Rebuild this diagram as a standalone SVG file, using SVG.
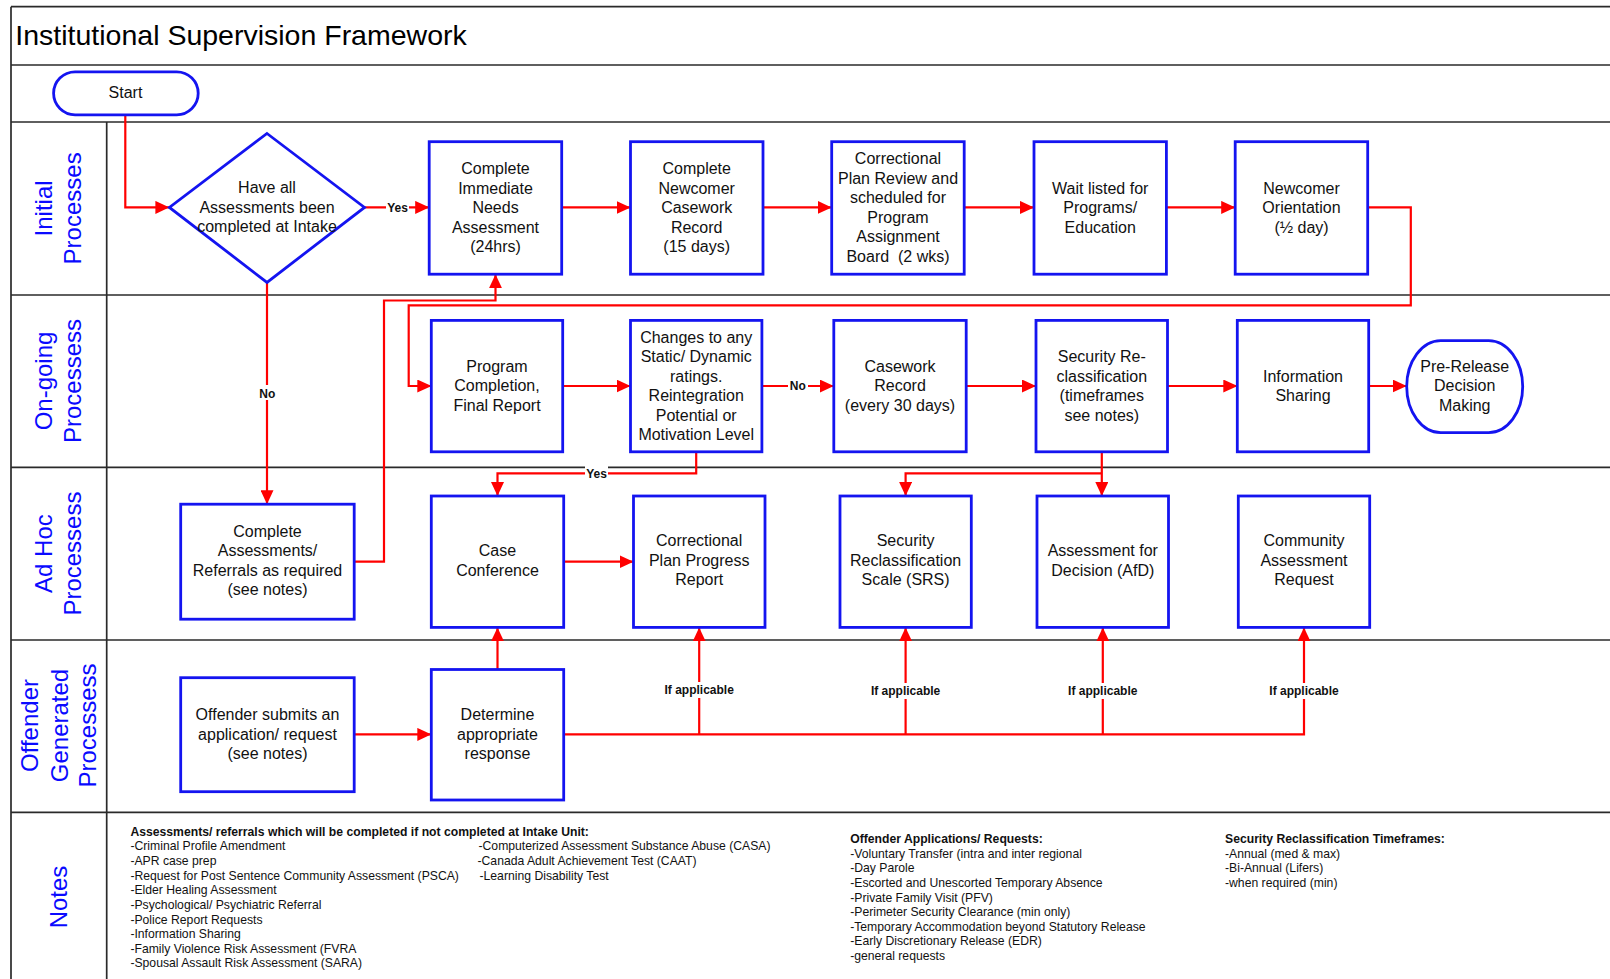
<svg xmlns="http://www.w3.org/2000/svg" width="1610" height="979" viewBox="0 0 1610 979">
<defs>
<style>
.frame{stroke:#2a2a2a;stroke-width:1.7;fill:none}
.node{fill:#fff;stroke:#1414f0;stroke-width:2.8}
.t{font-family:"Liberation Sans",Arial,sans-serif;font-size:16px;fill:#111;text-anchor:middle}
.lane{font-family:"Liberation Sans",Arial,sans-serif;font-size:24px;fill:#0a0aff;text-anchor:middle}
.lbl{font-family:"Liberation Sans",Arial,sans-serif;font-size:12px;font-weight:bold;fill:#111;text-anchor:middle}
.conn{fill:none;stroke:#ff0000;stroke-width:2.2}
.note{font-family:"Liberation Sans",Arial,sans-serif;font-size:12.2px;fill:#111}
.noteh{font-family:"Liberation Sans",Arial,sans-serif;font-size:12.2px;font-weight:bold;fill:#111}
.bg{fill:#fff}
</style>
<marker id="arr" markerUnits="userSpaceOnUse" markerWidth="14" markerHeight="13" refX="14" refY="6.5" orient="auto">
<path d="M0,0 L14,6.5 L0,13 z" fill="#ff0000"/>
</marker>
</defs>
<rect x="0" y="0" width="1610" height="979" fill="#fff"/>

<g id="frame">
<line class="frame" x1="11" y1="6.7" x2="1610" y2="6.7" stroke="#444"/>
<line class="frame" x1="11" y1="6.7" x2="11" y2="979"/>
<line class="frame" x1="11" y1="65" x2="1610" y2="65"/>
<line class="frame" x1="11" y1="122" x2="1610" y2="122"/>
<line class="frame" x1="11" y1="295" x2="1610" y2="295"/>
<line class="frame" x1="11" y1="467.3" x2="1610" y2="467.3"/>
<line class="frame" x1="11" y1="640" x2="1610" y2="640"/>
<line class="frame" x1="11" y1="812.3" x2="1610" y2="812.3"/>
<line class="frame" x1="106.7" y1="122" x2="106.7" y2="979"/>
<text x="15.3" y="44.5" font-family="Liberation Sans, Arial, sans-serif" font-size="28.5" fill="#000">Institutional Supervision Framework</text>
</g>

<g id="lanes">
<text class="lane" transform="translate(51.5,208.4) rotate(-90)">Initial</text>
<text class="lane" transform="translate(81,208.4) rotate(-90)">Processes</text>
<text class="lane" transform="translate(52,381) rotate(-90)">On-going</text>
<text class="lane" transform="translate(81,381) rotate(-90)">Processess</text>
<text class="lane" transform="translate(52,553.6) rotate(-90)">Ad Hoc</text>
<text class="lane" transform="translate(81,553.6) rotate(-90)">Processess</text>
<text class="lane" transform="translate(38.3,725.5) rotate(-90)">Offender</text>
<text class="lane" transform="translate(67.5,725.5) rotate(-90)">Generated</text>
<text class="lane" transform="translate(95.7,725.5) rotate(-90)">Processess</text>
<text class="lane" transform="translate(67,897) rotate(-90)">Notes</text>
</g>

<g id="connectors">
<path class="conn" d="M125.3,114 V207.4 H169.4" marker-end="url(#arr)"/>
<path class="conn" d="M364.5,207.4 H429.2" marker-end="url(#arr)"/>
<path class="conn" d="M561.7,207.4 H630.5" marker-end="url(#arr)"/>
<path class="conn" d="M763,207.4 H831.7" marker-end="url(#arr)"/>
<path class="conn" d="M964.2,207.4 H1034" marker-end="url(#arr)"/>
<path class="conn" d="M1166.4,207.4 H1235.2" marker-end="url(#arr)"/>
<path class="conn" d="M1367.7,207.4 H1410.8 V305.3 H408.7 V386 H431.3" marker-end="url(#arr)"/>
<path class="conn" d="M267,282.4 V504.2" marker-end="url(#arr)"/>
<path class="conn" d="M354.2,561.7 H384 V300.5 H495.5 V274.2" marker-end="url(#arr)"/>
<path class="conn" d="M562.7,386 H630.5" marker-end="url(#arr)"/>
<path class="conn" d="M761.9,386 H833.8" marker-end="url(#arr)"/>
<path class="conn" d="M966.2,386 H1036" marker-end="url(#arr)"/>
<path class="conn" d="M1167.5,386 H1237.3" marker-end="url(#arr)"/>
<path class="conn" d="M1368.7,386 H1406.7" marker-end="url(#arr)"/>
<path class="conn" d="M696.2,451.8 V473.3 H497.5 V496" marker-end="url(#arr)"/>
<path class="conn" d="M1101.8,451.8 V496" marker-end="url(#arr)"/>
<path class="conn" d="M1101.8,473.3 H905.6 V496" marker-end="url(#arr)"/>
<path class="conn" d="M563.7,561.7 H633.5" marker-end="url(#arr)"/>
<path class="conn" d="M497.5,669.5 V627.4" marker-end="url(#arr)"/>
<path class="conn" d="M354.2,734.4 H431.3" marker-end="url(#arr)"/>
<path class="conn" d="M563.7,734.4 H1304 V627.4" marker-end="url(#arr)"/>
<path class="conn" d="M699.2,734.4 V627.4" marker-end="url(#arr)"/>
<path class="conn" d="M905.6,734.4 V627.4" marker-end="url(#arr)"/>
<path class="conn" d="M1102.8,734.4 V627.4" marker-end="url(#arr)"/>
<rect class="bg" x="386" y="200" width="23" height="15"/>
<text class="lbl" x="397.6" y="211.6">Yes</text>
<rect class="bg" x="257" y="385" width="20" height="15"/>
<text class="lbl" x="267.3" y="397.5">No</text>
<rect class="bg" x="788" y="379" width="20" height="15"/>
<text class="lbl" x="797.8" y="390.2">No</text>
<rect class="bg" x="585" y="466" width="23" height="15"/>
<text class="lbl" x="596.6" y="477.5">Yes</text>
<rect class="bg" x="662" y="682" width="74" height="16"/>
<text class="lbl" x="699.2" y="694.3">If applicable</text>
<rect class="bg" x="868" y="683" width="74" height="16"/>
<text class="lbl" x="905.6" y="695.3">If applicable</text>
<rect class="bg" x="1065" y="683" width="74" height="16"/>
<text class="lbl" x="1102.8" y="695.3">If applicable</text>
<rect class="bg" x="1267" y="683" width="74" height="16"/>
<text class="lbl" x="1304" y="695.3">If applicable</text>
</g>

<g id="start">
<rect class="node" x="53.6" y="71.8" width="144.6" height="43" rx="21.5" ry="21.5"/>
<text class="t" x="125.5" y="98">Start</text>
</g>

<g id="decision">
<polygon class="node" points="267,133.5 364.5,207.4 267,282.4 169.4,207.4"/>
<text class="t" x="267" y="193.4">Have all</text>
<text class="t" x="267" y="212.9">Assessments been</text>
<text class="t" x="267" y="232.4">completed at Intake</text>
</g>

<g id="needs">
<rect class="node" x="429.2" y="141.7" width="132.5" height="132.5"/>
<text class="t" x="495.5" y="174">Complete</text>
<text class="t" x="495.5" y="193.5">Immediate</text>
<text class="t" x="495.5" y="213">Needs</text>
<text class="t" x="495.5" y="232.5">Assessment</text>
<text class="t" x="495.5" y="252">(24hrs)</text>
</g>

<g id="newcomer-record">
<rect class="node" x="630.5" y="141.7" width="132.5" height="132.5"/>
<text class="t" x="696.7" y="174">Complete</text>
<text class="t" x="696.7" y="193.5">Newcomer</text>
<text class="t" x="696.7" y="213">Casework</text>
<text class="t" x="696.7" y="232.5">Record</text>
<text class="t" x="696.7" y="252">(15 days)</text>
</g>

<g id="plan-review">
<rect class="node" x="831.7" y="141.7" width="132.5" height="132.5"/>
<text class="t" x="898" y="164.2">Correctional</text>
<text class="t" x="898" y="183.7">Plan Review and</text>
<text class="t" x="898" y="203.2">scheduled for</text>
<text class="t" x="898" y="222.7">Program</text>
<text class="t" x="898" y="242.2">Assignment</text>
<text class="t" x="898" y="261.7" xml:space="preserve">Board  (2 wks)</text>
</g>

<g id="wait-listed">
<rect class="node" x="1034" y="141.7" width="132.4" height="132.5"/>
<text class="t" x="1100.2" y="193.5">Wait listed for</text>
<text class="t" x="1100.2" y="213">Programs/</text>
<text class="t" x="1100.2" y="232.5">Education</text>
</g>

<g id="orientation">
<rect class="node" x="1235.2" y="141.7" width="132.5" height="132.5"/>
<text class="t" x="1301.5" y="193.5">Newcomer</text>
<text class="t" x="1301.5" y="213">Orientation</text>
<text class="t" x="1301.5" y="232.5">(½ day)</text>
</g>

<g id="program-completion">
<rect class="node" x="431.3" y="320.4" width="131.4" height="131.4"/>
<text class="t" x="497" y="371.9">Program</text>
<text class="t" x="497" y="391.4">Completion,</text>
<text class="t" x="497" y="410.9">Final Report</text>
</g>

<g id="changes">
<rect class="node" x="630.5" y="320.4" width="131.4" height="131.4"/>
<text class="t" x="696.2" y="342.6">Changes to any</text>
<text class="t" x="696.2" y="362.1">Static/ Dynamic</text>
<text class="t" x="696.2" y="381.6">ratings.</text>
<text class="t" x="696.2" y="401.1">Reintegration</text>
<text class="t" x="696.2" y="420.6">Potential or</text>
<text class="t" x="696.2" y="440.1">Motivation Level</text>
</g>

<g id="casework-record">
<rect class="node" x="833.8" y="320.4" width="132.4" height="131.4"/>
<text class="t" x="900" y="371.9">Casework</text>
<text class="t" x="900" y="391.4">Record</text>
<text class="t" x="900" y="410.9">(every 30 days)</text>
</g>

<g id="security-reclass">
<rect class="node" x="1036" y="320.4" width="131.5" height="131.4"/>
<text class="t" x="1101.8" y="362.1">Security Re-</text>
<text class="t" x="1101.8" y="381.6">classification</text>
<text class="t" x="1101.8" y="401.1">(timeframes</text>
<text class="t" x="1101.8" y="420.6">see notes)</text>
</g>

<g id="info-sharing">
<rect class="node" x="1237.3" y="320.4" width="131.4" height="131.4"/>
<text class="t" x="1303" y="381.6">Information</text>
<text class="t" x="1303" y="401.1">Sharing</text>
</g>

<g id="pre-release">
<rect class="node" x="1406.7" y="340.6" width="116" height="92" rx="34" ry="46"/>
<text class="t" x="1464.7" y="371.9">Pre-Release</text>
<text class="t" x="1464.7" y="391.4">Decision</text>
<text class="t" x="1464.7" y="410.9">Making</text>
</g>

<g id="complete-assessments">
<rect class="node" x="180.7" y="504.2" width="173.5" height="115"/>
<text class="t" x="267.5" y="536.5">Complete</text>
<text class="t" x="267.5" y="556">Assessments/</text>
<text class="t" x="267.5" y="575.5">Referrals as required</text>
<text class="t" x="267.5" y="595">(see notes)</text>
</g>

<g id="case-conference">
<rect class="node" x="431.3" y="496" width="132.4" height="131.4"/>
<text class="t" x="497.5" y="556">Case</text>
<text class="t" x="497.5" y="575.5">Conference</text>
</g>

<g id="progress-report">
<rect class="node" x="633.5" y="496" width="131.5" height="131.4"/>
<text class="t" x="699.2" y="546.2">Correctional</text>
<text class="t" x="699.2" y="565.7">Plan Progress</text>
<text class="t" x="699.2" y="585.2">Report</text>
</g>

<g id="srs">
<rect class="node" x="840" y="496" width="131.3" height="131.4"/>
<text class="t" x="905.6" y="546.2">Security</text>
<text class="t" x="905.6" y="565.7">Reclassification</text>
<text class="t" x="905.6" y="585.2">Scale (SRS)</text>
</g>

<g id="afd">
<rect class="node" x="1037" y="496" width="131.5" height="131.4"/>
<text class="t" x="1102.8" y="556">Assessment for</text>
<text class="t" x="1102.8" y="575.5">Decision (AfD)</text>
</g>

<g id="community">
<rect class="node" x="1238.3" y="496" width="131.4" height="131.4"/>
<text class="t" x="1304" y="546.2">Community</text>
<text class="t" x="1304" y="565.7">Assessment</text>
<text class="t" x="1304" y="585.2">Request</text>
</g>

<g id="offender-submits">
<rect class="node" x="180.7" y="677.7" width="173.5" height="114"/>
<text class="t" x="267.5" y="720">Offender submits an</text>
<text class="t" x="267.5" y="739.5">application/ request</text>
<text class="t" x="267.5" y="759">(see notes)</text>
</g>

<g id="determine">
<rect class="node" x="431.3" y="669.5" width="132.4" height="130.5"/>
<text class="t" x="497.5" y="720">Determine</text>
<text class="t" x="497.5" y="739.5">appropriate</text>
<text class="t" x="497.5" y="759">response</text>
</g>

<g id="notes">
<text class="noteh" x="130.4" y="836">Assessments/ referrals which will be completed if not completed at Intake Unit:</text>
<text class="note" x="130.4" y="850.4">-Criminal Profile Amendment</text>
<text class="note" x="130.4" y="865">-APR case prep</text>
<text class="note" x="130.4" y="879.7">-Request for Post Sentence Community Assessment (PSCA)</text>
<text class="note" x="130.4" y="894.3">-Elder Healing Assessment</text>
<text class="note" x="130.4" y="908.9">-Psychological/ Psychiatric Referral</text>
<text class="note" x="130.4" y="923.6">-Police Report Requests</text>
<text class="note" x="130.4" y="938.2">-Information Sharing</text>
<text class="note" x="130.4" y="952.8">-Family Violence Risk Assessment (FVRA</text>
<text class="note" x="130.4" y="967.4">-Spousal Assault Risk Assessment (SARA)</text>
<text class="note" x="478.5" y="850.4">-Computerized Assessment Substance Abuse (CASA)</text>
<text class="note" x="477.5" y="865">-Canada Adult Achievement Test (CAAT)</text>
<text class="note" x="479.5" y="879.7">-Learning Disability Test</text>
<text class="noteh" x="850.2" y="843.2">Offender Applications/ Requests:</text>
<text class="note" x="850.2" y="857.6">-Voluntary Transfer (intra and inter regional</text>
<text class="note" x="850.2" y="872.2">-Day Parole</text>
<text class="note" x="850.2" y="886.9">-Escorted and Unescorted Temporary Absence</text>
<text class="note" x="850.2" y="901.5">-Private Family Visit (PFV)</text>
<text class="note" x="850.2" y="916.1">-Perimeter Security Clearance (min only)</text>
<text class="note" x="850.2" y="930.8">-Temporary Accommodation beyond Statutory Release</text>
<text class="note" x="850.2" y="945.4">-Early Discretionary Release (EDR)</text>
<text class="note" x="850.2" y="960">-general requests</text>
<text class="noteh" x="1225" y="843.2">Security Reclassification Timeframes:</text>
<text class="note" x="1225" y="857.6">-Annual (med &amp; max)</text>
<text class="note" x="1225" y="872.2">-Bi-Annual (Lifers)</text>
<text class="note" x="1225" y="886.9">-when required (min)</text>
</g>
</svg>
